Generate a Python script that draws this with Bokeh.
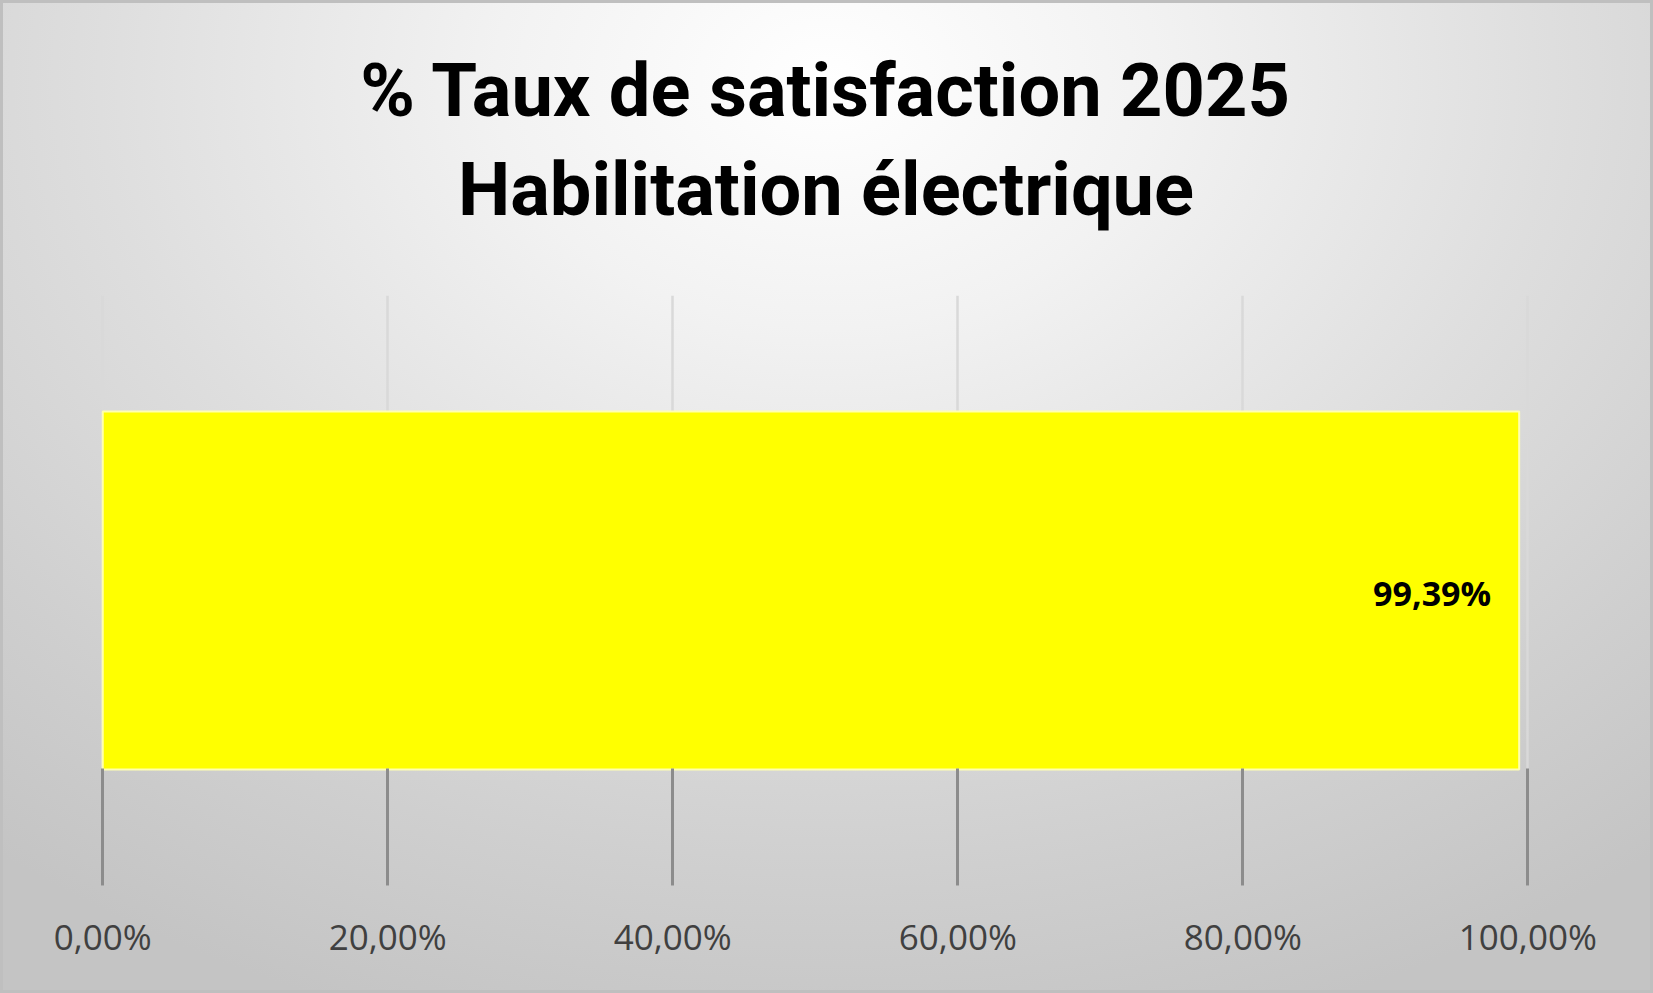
from bokeh.plotting import figure
from bokeh.models import Range1d, FactorRange, FixedTicker, Title
from bokeh.core.properties import value
from bokeh.embed import file_html
from bokeh.resources import INLINE

# ---- data ----
categories = ["Habilitation électrique"]
satisfaction = [99.39]
data_labels = ["99,39%"]
tick_values = [0, 20, 40, 60, 80, 100]
tick_labels = ["0,00%", "20,00%", "40,00%", "60,00%", "80,00%", "100,00%"]
title_lines = ["% Taux de satisfaction 2025", "Habilitation électrique"]

W, H = 1653, 993

p = figure(
    width=W, height=H,
    output_backend="svg", toolbar_location=None,
    x_range=Range1d(-5, 106.5),
    y_range=FactorRange(factors=categories),
    min_border_left=31, min_border_right=33,
    min_border_top=295, min_border_bottom=108,
)
p.styles = {
    "background": "radial-gradient(ellipse 80% 100% at 50% 8%, #ffffff 0%, #f2f2f2 25%, #dedede 55%, #cfcfcf 80%, #c4c4c4 100%)",
    "box-shadow": "inset 0 0 0 3px #bfbfbf",
}
p.background_fill_color = None
p.border_fill_color = None
p.outline_line_color = None

# titles (first added = nearest to the frame)
p.add_layout(Title(text=title_lines[1], align="center", text_font="Roboto",
                   text_font_size="74px", text_font_style="bold", text_color="#000000",
                   standoff=125), "above")
p.add_layout(Title(text=title_lines[0], align="center", text_font="Roboto",
                   text_font_size="74px", text_font_style="bold", text_color="#000000",
                   standoff=-104), "above")

p.hbar(y=categories, right=satisfaction, left=0, height=0.607,
       fill_color="#ffff00", line_color="#ffffb0", line_width=2)

p.text(x=satisfaction, y=categories, text=data_labels, text_align="right",
       text_baseline="middle", x_offset=-28, y_offset=2,
       text_font=value("Open Sans"), text_font_size="34px", text_font_style="bold",
       text_color="#000000")

# axes
p.yaxis.visible = False
p.ygrid.grid_line_color = None
p.xaxis.ticker = FixedTicker(ticks=tick_values)
p.xaxis.major_label_overrides = {t: l for t, l in zip(tick_values, tick_labels)}
p.xaxis.axis_line_color = None
p.xaxis.minor_tick_line_color = None
p.xaxis.major_tick_in = 117
p.xaxis.major_tick_out = 0
p.xaxis.major_tick_line_color = "#8c8c8c"
p.xaxis.major_tick_line_width = 3
p.xaxis.major_label_standoff = 27
p.xaxis.major_label_text_font = "Open Sans"
p.xaxis.major_label_text_font_size = "35px"
p.xaxis.major_label_text_color = "#404040"
p.xgrid.ticker = FixedTicker(ticks=tick_values)
p.xgrid.grid_line_color = "#d9d9d9"
p.xgrid.grid_line_width = 2.5

open("out.html", "w").write(file_html(p, INLINE))
